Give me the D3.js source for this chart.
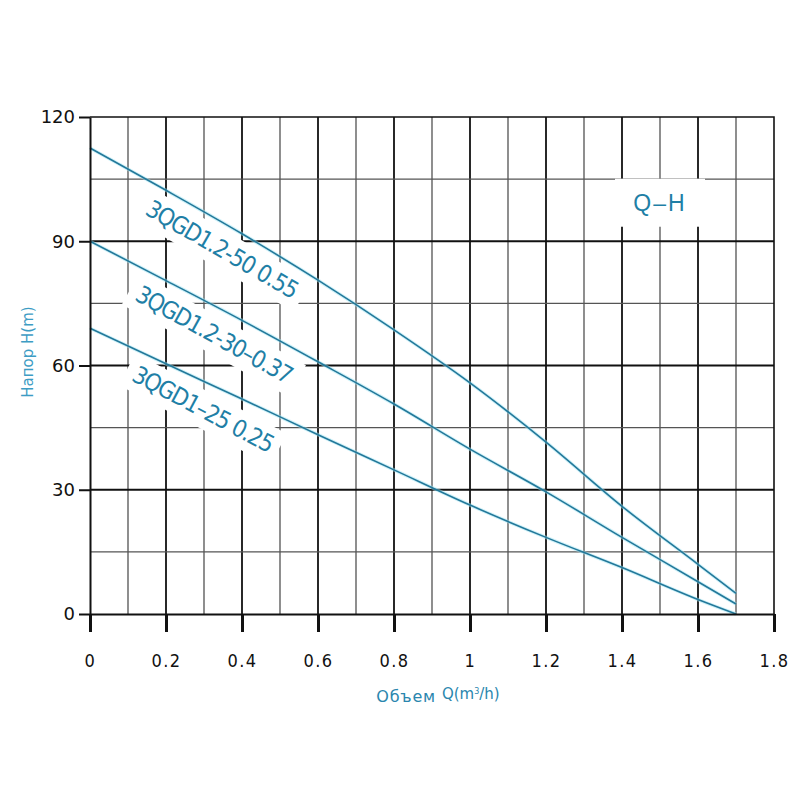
<!DOCTYPE html>
<html>
<head>
<meta charset="utf-8">
<script src="https://cdn.jsdelivr.net/npm/d3@7"></script>
<style>
  body { margin: 0; background: #fff; }
  svg { display: block; }
</style>
</head>
<body>
<div id="chart"></div>
<script>
// flow rate Q (m3/h) and head H (m)
var flow = [0, 0.2, 0.4, 0.6, 0.8, 1.0, 1.2, 1.4, 1.6, 1.7];
var head50 = [112.5, 102.3, 91.8, 80.6, 68.6, 55.8, 41.5, 26, 12, 5];
var head30 = [90, 80.5, 70.9, 60.9, 50.7, 39.8, 29.5, 18.5, 7.8, 2.4];
var head25 = [69, 60.4, 51.9, 43.3, 34.8, 26.3, 18.5, 11.2, 3.5, 0];
var curveNames = ["3QGD1.2-50 0.55", "3QGD1.2-30\u20130.37", "3QGD1\u201325 0.25"];

var xTicks = [0, 0.2, 0.4, 0.6, 0.8, 1, 1.2, 1.4, 1.6, 1.8];
var yTicks = [0, 30, 60, 90, 120];
var xGrid = [0.1, 0.2, 0.3, 0.4, 0.5, 0.6, 0.7, 0.8, 0.9, 1.0, 1.1, 1.2, 1.3, 1.4, 1.5, 1.6, 1.7];
var yGrid = [15, 30, 45, 60, 75, 90, 105];

// where the curve names sit (in chart units) and their tilt
var labelPlace = [
    { q: 0.347, h: 88.0, angle: 30 },
    { q: 0.326, h: 67.4, angle: 29 },
    { q: 0.297, h: 49.4, angle: 28 }
];

var width = 800, height = 800;
var teal = "#23789a";

var svg = d3.select("#chart").append("svg")
    .attr("width", width)
    .attr("height", height);

svg.append("rect").attr("width", width).attr("height", height).attr("fill", "#fff");

var x = d3.scaleLinear().domain([0, 1.8]).range([90, 774]);
var y = d3.scaleLinear().domain([0, 120]).range([614, 117]);

function isMajorQ(q) { return Math.round(q * 10) % 2 === 0; }
function isMajorH(h) { return h % 30 === 0; }

// grid
svg.append("g").selectAll("line")
    .data(xGrid)
    .enter().append("line")
    .attr("x1", function (d) { return x(d); })
    .attr("x2", function (d) { return x(d); })
    .attr("y1", y(0))
    .attr("y2", y(120))
    .attr("stroke", function (d) { return isMajorQ(d) ? "#111" : "#444"; })
    .attr("stroke-width", function (d) { return isMajorQ(d) ? 1.8 : 1.2; });

svg.append("g").selectAll("line")
    .data(yGrid)
    .enter().append("line")
    .attr("x1", x(0))
    .attr("x2", x(1.8))
    .attr("y1", function (d) { return y(d); })
    .attr("y2", function (d) { return y(d); })
    .attr("stroke", function (d) { return isMajorH(d) ? "#111" : "#555"; })
    .attr("stroke-width", function (d) { return isMajorH(d) ? 1.8 : 1.2; });

// top and right border
svg.append("path")
    .attr("d", "M" + x(0) + "," + y(120) + "H" + x(1.8) + "V" + y(0))
    .attr("fill", "none")
    .attr("stroke", "#111")
    .attr("stroke-width", 1.6);

// Q-H box
var qh = svg.append("g").attr("transform", "translate(" + x(1.5) + "," + y(99.3) + ")");
qh.append("rect")
    .attr("x", -45).attr("y", -24).attr("width", 90).attr("height", 48)
    .attr("fill", "#fff");
qh.append("text")
    .attr("text-anchor", "middle")
    .attr("dominant-baseline", "central")
    .attr("font-family", "Liberation Sans, Arial, sans-serif")
    .attr("font-size", 23)
    .attr("letter-spacing", 2)
    .attr("fill", "#1f7fa6")
    .text("Q\u2013H");

// curve name labels with white backing
curveNames.forEach(function (name, i) {
    var p = labelPlace[i];
    var g = svg.append("g")
        .attr("transform", "translate(" + x(p.q) + "," + y(p.h) + ") rotate(" + p.angle + ")");
    var t = g.append("text")
        .attr("text-anchor", "middle")
        .attr("dominant-baseline", "central")
        .attr("font-family", "DejaVu Sans Condensed, sans-serif")
        .attr("font-size", 24)
        .attr("letter-spacing", -1.2)
        .attr("fill", "#1f7fa6")
        .text(name);
    var bb = t.node().getBBox();
    g.insert("rect", "text")
        .attr("x", bb.x - 8).attr("y", bb.y - 4)
        .attr("width", bb.width + 16).attr("height", bb.height + 8)
        .attr("fill", "#fff");
});

// curves
var line = d3.line()
    .x(function (d) { return x(d[0]); })
    .y(function (d) { return y(d[1]); })
    .curve(d3.curveMonotoneX);

[head50, head30, head25].forEach(function (h) {
    var pts = flow.map(function (q, i) { return [q, h[i]]; });
    svg.append("path")
        .attr("d", line(pts))
        .attr("fill", "none")
        .attr("stroke", "#9fe6f4")
        .attr("stroke-width", 3.5)
        .attr("stroke-opacity", 0.5);
    svg.append("path")
        .attr("d", line(pts))
        .attr("fill", "none")
        .attr("stroke", teal)
        .attr("stroke-width", 1.6);
});

// axes
var xAxis = d3.axisBottom(x)
    .tickValues(xTicks)
    .tickSize(18)
    .tickSizeOuter(0)
    .tickPadding(22)
    .tickFormat(function (d) { return String(d); });

var gx = svg.append("g")
    .attr("transform", "translate(0," + y(0) + ")")
    .call(xAxis);
gx.select(".domain").attr("stroke", "#111").attr("stroke-width", 2);
gx.selectAll(".tick line").attr("stroke", "#111").attr("stroke-width", 3);
gx.selectAll(".tick text")
    .attr("fill", "#111")
    .attr("font-family", "DejaVu Sans Condensed, sans-serif")
    .attr("font-size", 18)
    .attr("letter-spacing", 1.5);

var yAxis = d3.axisLeft(y)
    .tickValues(yTicks)
    .tickSize(11)
    .tickSizeOuter(0)
    .tickPadding(4);

var gy = svg.append("g")
    .attr("transform", "translate(" + x(0) + ",0)")
    .call(yAxis);
gy.select(".domain").attr("stroke", "#111").attr("stroke-width", 2);
gy.selectAll(".tick line").attr("stroke", "#111").attr("stroke-width", 2);
gy.selectAll(".tick text")
    .attr("fill", "#111")
    .attr("font-family", "DejaVu Sans, sans-serif")
    .attr("font-size", 18);

// axis titles
svg.append("text")
    .attr("transform", "translate(33,352) rotate(-90)")
    .attr("text-anchor", "middle")
    .attr("font-family", "DejaVu Sans, sans-serif")
    .attr("font-size", 15)
    .attr("fill", "#3d9cc4")
    .text("Напор H(m)");

var xt = svg.append("text")
    .attr("x", 438)
    .attr("y", 702)
    .attr("text-anchor", "middle")
    .attr("font-family", "DejaVu Sans, sans-serif")
    .attr("fill", "#2a86ae");
xt.append("tspan").attr("font-size", 16).attr("letter-spacing", 0.8).text("Объем ");
xt.append("tspan").attr("font-size", 15).attr("dy", -3).text("Q(m");
xt.append("tspan").attr("font-size", 8).attr("dy", -5).text("3");
xt.append("tspan").attr("font-size", 15).attr("dy", 5).text("/h)");
</script>
</body>
</html>
